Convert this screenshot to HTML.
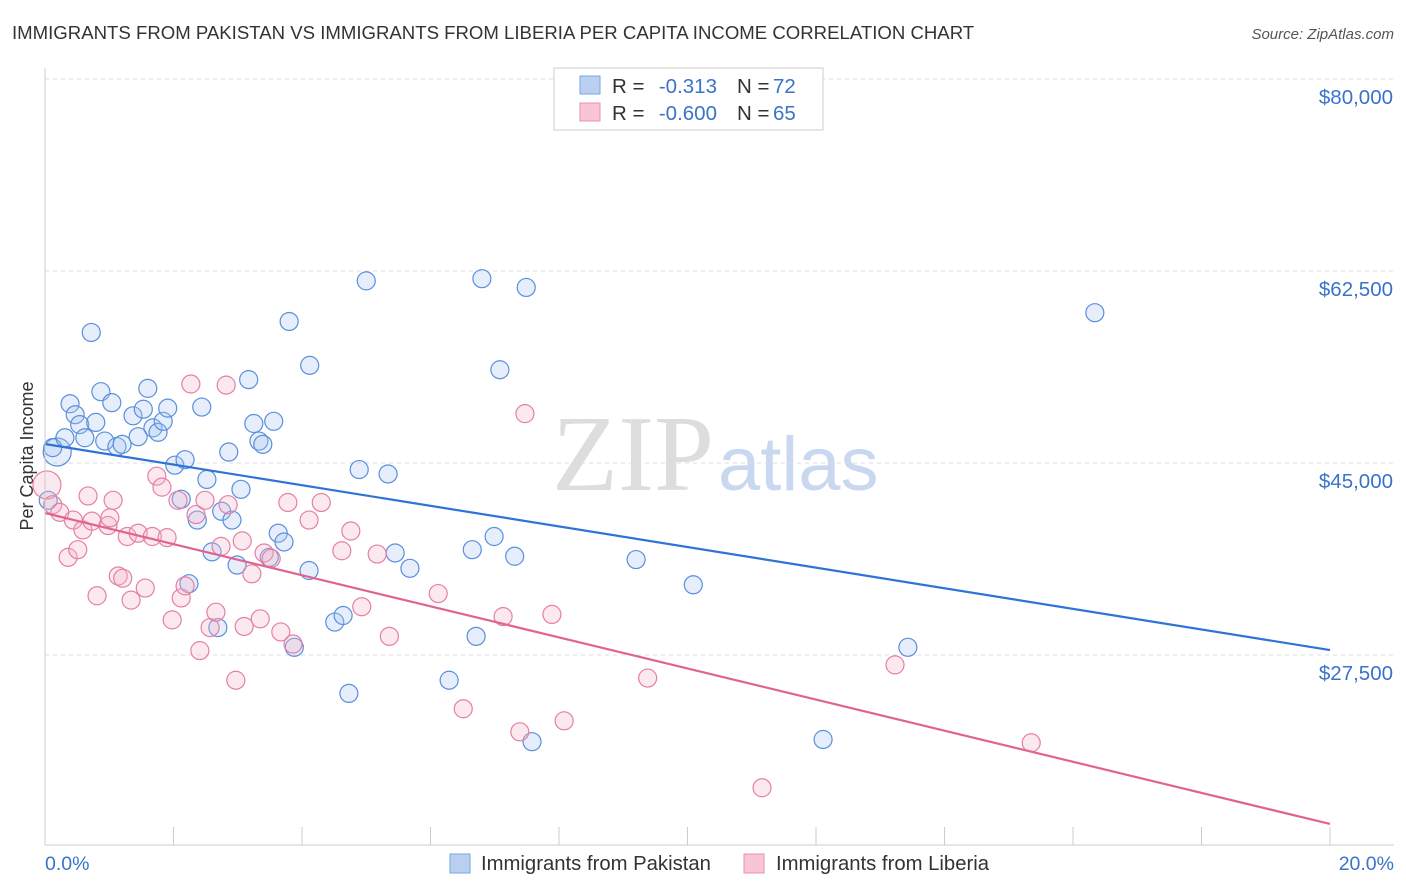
<!DOCTYPE html>
<html><head><meta charset="utf-8"><style>
body{margin:0;background:#fff;font-family:"Liberation Sans",sans-serif;}
#c{position:absolute;left:0;top:0;}
</style></head><body>
<svg id="c" width="1406" height="892">
<text x="12" y="39" font-size="18.6" fill="#333">IMMIGRANTS FROM PAKISTAN VS IMMIGRANTS FROM LIBERIA PER CAPITA INCOME CORRELATION CHART</text>
<text x="1394" y="39" font-size="15" fill="#555" font-style="italic" text-anchor="end">Source: ZipAtlas.com</text>
<text x="33" y="456" font-size="18" fill="#333" text-anchor="middle" transform="rotate(-90 33 456)">Per Capita Income</text>
<text x="714" y="490" font-size="108" fill="#ddd" text-anchor="end" font-family="Liberation Serif">ZIP</text>
<text x="718" y="490" font-size="76" fill="#c9d8f0">atlas</text>
<g id="grid"></g><g id="pts"></g><g id="lines"></g>
<line x1="45" y1="68" x2="45" y2="845" stroke="#ccc"/>
<line x1="45" y1="845" x2="1394" y2="845" stroke="#ccc"/>
<text x="45" y="870" font-size="19.5" fill="#3a73c9">0.0%</text>
<text x="1394" y="870" font-size="19.5" fill="#3a73c9" text-anchor="end">20.0%</text>
<g>
<rect x="554" y="68" width="269" height="62" fill="#fff" stroke="#ccc"/>
<rect x="580" y="76" width="20" height="18" fill="#b9d0f0" stroke="#7aa3e0"/>
<rect x="580" y="103" width="20" height="18" fill="#f8c5d6" stroke="#e890b0"/>
<g font-size="20.5" fill="#333">
<text x="612" y="93">R =</text><text x="717" y="93" text-anchor="end" fill="#3a73c9">-0.313</text>
<text x="737" y="93">N =</text><text x="773" y="93" fill="#3a73c9">72</text>
<text x="612" y="120">R =</text><text x="717" y="120" text-anchor="end" fill="#3a73c9">-0.600</text>
<text x="737" y="120">N =</text><text x="773" y="120" fill="#3a73c9">65</text>
</g>
</g>
<g>
<rect x="450" y="854" width="20" height="19" fill="#b9d0f0" stroke="#7aa3e0"/>
<text x="481" y="870" font-size="20.3" fill="#333">Immigrants from Pakistan</text>
<rect x="744" y="854" width="20" height="19" fill="#f8c5d6" stroke="#e890b0"/>
<text x="776" y="870" font-size="20.3" fill="#333">Immigrants from Liberia</text>
</g>
</svg>
<script>
const yTicks=[80000,62500,45000,27500];
const yTickLabels=["$80,000","$62,500","$45,000","$27,500"];
const xTicks=[0,2,4,6,8,10,12,14,16,18,20];
const pakX=[0.19,0.12,0.72,0.39,0.47,0.54,0.31,0.62,0.79,0.87,1.04,0.93,1.12,1.20,1.37,1.45,1.53,1.60,1.68,1.76,1.84,1.91,2.02,2.18,2.12,2.37,2.44,2.52,2.60,2.69,2.75,2.86,2.91,2.99,3.05,3.17,3.25,3.33,3.39,3.49,3.56,3.63,3.72,3.80,3.88,4.12,4.11,4.51,4.64,4.73,4.89,5.00,5.34,5.45,5.68,6.29,6.65,6.71,6.80,6.99,7.08,7.31,7.49,7.58,9.20,10.09,12.11,13.43,16.34,2.24,0.05];
const pakY=[46000,46400,56900,50400,49400,48500,47300,47300,48700,51500,50500,47000,46500,46700,49300,47400,49900,51800,48200,47800,48800,50000,44800,45300,41700,39800,50100,43500,36900,30000,40600,46000,39800,35700,42600,52600,48600,47000,46700,36400,48800,38600,37800,57900,28200,53900,35200,30500,31100,24000,44400,61600,44000,36800,35400,25200,37100,29200,61800,38300,53500,36500,61000,19600,36200,33900,19800,28200,58700,34000,41600];
const libX=[0.03,0.12,0.23,0.36,0.44,0.51,0.59,0.67,0.73,0.81,0.98,1.01,1.06,1.14,1.21,1.28,1.34,1.45,1.56,1.67,1.74,1.82,1.90,1.98,2.07,2.12,2.18,2.27,2.35,2.41,2.49,2.57,2.66,2.74,2.82,2.85,2.97,3.07,3.10,3.22,3.35,3.41,3.52,3.67,3.78,3.86,4.11,4.30,4.62,4.76,4.93,5.17,5.36,6.12,6.51,7.13,7.39,7.47,7.89,8.08,9.38,11.16,13.23,15.35];
const libY=[43000,41200,40500,36400,39800,37100,38900,42000,39700,32900,39300,40000,41600,34700,34500,38300,32500,38600,33600,38300,43800,42800,38200,30700,41600,32700,33800,52200,40300,27900,41600,30000,31400,37400,52100,41200,25200,37900,30100,34900,30800,36800,36300,29600,41400,28500,39800,41400,37000,38800,31900,36700,29200,33100,22600,31000,20500,49500,31200,21500,25400,15400,26600,19500];
const pakTrend=[46730,27950];
const libTrend=[40440,12100];
const NS="http://www.w3.org/2000/svg";
const X=v=>45+v/20*1285, Y=v=>79+(80000-v)/17500*192;
function mk(t,a,p){const e=document.createElementNS(NS,t);for(const k in a)e.setAttribute(k,a[k]);p.appendChild(e);return e;}
const g=document.getElementById('grid');
yTicks.forEach((v,i)=>{
 const l=mk('line',{x1:45,x2:1394,y1:Y(v),y2:Y(v),stroke:'#ddd','stroke-dasharray':'4,4'},g);
 
 
 const t=mk('text',{x:1393,y:Y(v)+25,'font-size':20.5,fill:'#3a73c9','text-anchor':'end'},g);
 t.textContent=yTickLabels[i];
 
 
});
xTicks.forEach(v=>{
 const l=mk('line',{x1:X(v),x2:X(v),y1:827,y2:845,stroke:'#ccc'},g);
 
 
});
const p=document.getElementById('pts');
function pts(xs,ys,fill,stroke,name){
 xs.forEach((x,i)=>{
  const r=(i===0)?14:9;
  const c=mk('circle',{cx:X(x),cy:Y(ys[i]),r:r,fill:fill,'fill-opacity':0.3,stroke:stroke,'stroke-width':1.2},p);
  
  
 });
}
pts(pakX,pakY,'#a8c6f0','#5a8fdc','pakistan-point');
pts(libX,libY,'#f5b5ca','#e57fa4','liberia-point');
const L=document.getElementById('lines');
const a=mk('line',{x1:X(0),y1:Y(pakTrend[0]),x2:X(20),y2:Y(pakTrend[1]),stroke:'#2f73d6','stroke-width':2.2},L);


const b=mk('line',{x1:X(0),y1:Y(libTrend[0]),x2:X(20),y2:Y(libTrend[1]),stroke:'#e0648f','stroke-width':2.2},L);


</script>
</body></html>
